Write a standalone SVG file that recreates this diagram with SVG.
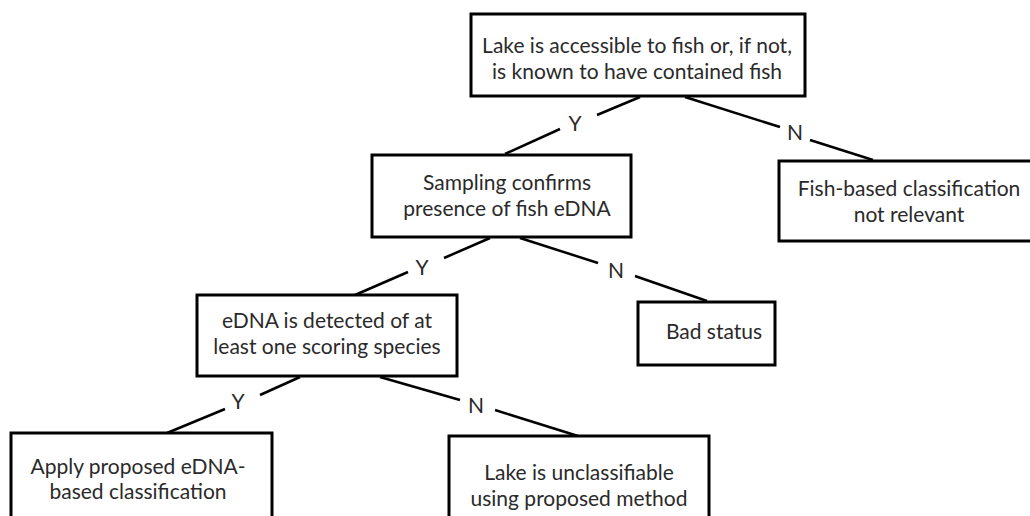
<svg xmlns="http://www.w3.org/2000/svg" width="1030" height="516" viewBox="0 0 1030 516">
<style>
.box{fill:#fff;stroke:#000;stroke-width:3}
.t{font-family:Lato,"Open Sans","Liberation Sans",sans-serif;font-size:21px;fill:#2a2a2a;text-anchor:middle}
.c{stroke:#000;stroke-width:2.5;fill:none}
</style>
<rect width="1030" height="516" fill="#fff"/>
<g id="connectors">
<line class="c" x1="640" y1="97" x2="597" y2="115"/>
<line class="c" x1="560" y1="129" x2="505" y2="154"/>
<line class="c" x1="685" y1="97" x2="780" y2="127"/>
<line class="c" x1="810" y1="140" x2="873" y2="160"/>
<line class="c" x1="490" y1="238" x2="444" y2="258"/>
<line class="c" x1="408" y1="272" x2="355" y2="295"/>
<line class="c" x1="520" y1="238" x2="598" y2="263"/>
<line class="c" x1="635" y1="276" x2="707" y2="301"/>
<line class="c" x1="300" y1="377" x2="260" y2="395"/>
<line class="c" x1="225" y1="409" x2="167" y2="433"/>
<line class="c" x1="380" y1="377" x2="460" y2="400"/>
<line class="c" x1="495" y1="410" x2="578" y2="436"/>
<text class="t" x="575" y="131">Y</text>
<text class="t" x="795" y="140">N</text>
<text class="t" x="422" y="275">Y</text>
<text class="t" x="616" y="278">N</text>
<text class="t" x="238" y="409">Y</text>
<text class="t" x="476" y="413">N</text>
</g>
<g id="n1">
<rect class="box" x="471" y="14" width="334" height="82"/>
<text class="t" x="637" y="53">Lake is accessible to fish or, if not,</text>
<text class="t" x="637" y="79">is known to have contained fish</text>
</g>
<g id="n2">
<rect class="box" x="372" y="155" width="259" height="82"/>
<text class="t" x="507" y="190">Sampling confirms</text>
<text class="t" x="507" y="216">presence of fish eDNA</text>
</g>
<g id="n3">
<rect class="box" x="779" y="161" width="262" height="80"/>
<text class="t" x="909" y="196">Fish-based classification</text>
<text class="t" x="909" y="222">not relevant</text>
</g>
<g id="n4">
<rect class="box" x="197" y="295" width="260" height="81"/>
<text class="t" x="327" y="328">eDNA is detected of at</text>
<text class="t" x="327" y="354">least one scoring species</text>
</g>
<g id="n5">
<rect class="box" x="638" y="302" width="137" height="63"/>
<text class="t" x="714" y="339">Bad status</text>
</g>
<g id="n6">
<rect class="box" x="11" y="433" width="261" height="90"/>
<text class="t" x="138" y="474">Apply proposed eDNA-</text>
<text class="t" x="138" y="499">based classification</text>
</g>
<g id="n7">
<rect class="box" x="449" y="436" width="260" height="90"/>
<text class="t" x="579" y="480">Lake is unclassifiable</text>
<text class="t" x="579" y="506">using proposed method</text>
</g>
</svg>
